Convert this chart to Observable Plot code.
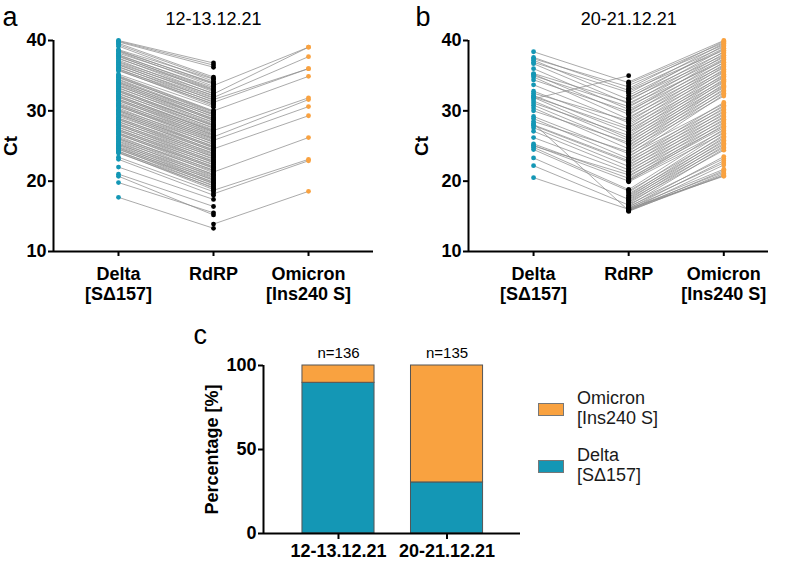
<!DOCTYPE html>
<html>
<head>
<meta charset="utf-8">
<script src="https://cdn.jsdelivr.net/npm/d3@7"></script>
<script src="https://cdn.jsdelivr.net/npm/@observablehq/plot@0.6"></script>
<style>
  body { margin: 0; background: white; }
  #wrap { position: relative; width: 790px; height: 562px; font-family: "Liberation Sans", Arial, sans-serif; }
  .panel { position: absolute; }
  .legend-sw { position: absolute; width: 24px; height: 11px; border: 1px solid #777; }
  .legend-tx { position: absolute; font-size: 18px; line-height: 20px; color: #1a1a1a; white-space: nowrap; }
</style>
</head>
<body>
<div id="wrap">
  <div class="panel" id="pa" style="left:0;top:0"></div>
  <div class="panel" id="pb" style="left:395px;top:0"></div>
  <div class="panel" id="pc" style="left:150px;top:300px"></div>
  <div class="legend-sw" style="left:538px;top:403px;background:#f9a240"></div>
  <div class="legend-tx" style="left:577px;top:388px">Omicron<br>[Ins240 S]</div>
  <div class="legend-sw" style="left:538px;top:460px;background:#1497b5"></div>
  <div class="legend-tx" style="left:577px;top:445px">Delta<br>[SΔ157]</div>
</div>
<script>
// ---------- data ----------
const categories = ["Delta\n[SΔ157]", "RdRP", "Omicron\n[Ins240 S]"];
const panelTitles = ["12-13.12.21", "20-21.12.21"];

// panel a (12-13.12.21): Delta samples (Delta Ct, RdRP Ct)
const aDeltaCt = [40.0, 39.9, 39.8, 39.6, 39.4, 39.2, 38.7, 38.6, 38.5, 38.4, 38.2, 38.0, 37.9, 37.8, 37.7, 37.5, 37.4, 37.2, 37.0, 36.9, 36.7, 36.6, 36.5, 36.3, 36.2, 36.0, 35.9, 35.8, 35.7, 35.2, 35.0, 34.9, 34.8, 34.7, 34.5, 34.4, 34.2, 34.1, 34.0, 33.9, 33.7, 33.6, 33.5, 33.3, 33.2, 33.0, 32.9, 32.8, 32.7, 32.5, 32.4, 32.2, 32.1, 32.0, 31.9, 31.7, 31.6, 31.5, 31.4, 31.2, 31.0, 30.9, 30.8, 30.7, 30.6, 30.4, 30.2, 30.1, 30.0, 29.9, 29.7, 29.6, 29.5, 29.4, 29.2, 29.0, 28.9, 28.8, 28.7, 28.5, 28.4, 28.2, 28.1, 28.0, 27.9, 27.7, 27.6, 27.4, 27.3, 27.2, 27.1, 26.9, 26.8, 26.7, 26.6, 26.4, 26.2, 26.1, 26.0, 25.9, 25.7, 25.6, 25.4, 25.3, 25.2, 25.1, 24.9, 24.8, 24.7, 24.6, 24.5, 24.3, 24.2, 24.1, 24.0, 23.4, 23.1, 22.0, 21.0, 20.7, 19.8, 17.7];
const aDeltaRdrp = [36.8, 36.5, 36.2, 34.8, 34.6, 34.2, 34.5, 33.9, 34.0, 33.5, 33.8, 33.1, 33.3, 32.7, 33.0, 32.4, 32.9, 32.1, 32.5, 31.9, 32.2, 31.5, 31.8, 31.2, 31.6, 30.9, 31.3, 30.7, 31.0, 30.5, 30.0, 29.9, 29.6, 29.8, 29.4, 29.1, 29.5, 28.8, 29.2, 28.6, 28.9, 28.3, 28.7, 28.1, 28.4, 27.8, 28.0, 27.5, 27.9, 27.3, 27.6, 27.0, 27.2, 26.7, 27.1, 26.5, 26.9, 26.2, 26.6, 26.0, 26.4, 25.7, 26.1, 25.5, 25.9, 25.2, 25.6, 24.9, 25.3, 24.7, 25.0, 24.4, 24.8, 24.2, 24.5, 23.9, 24.3, 23.6, 24.0, 23.4, 23.8, 23.1, 23.5, 22.8, 23.2, 22.6, 22.9, 22.3, 22.7, 22.0, 22.4, 21.8, 22.1, 21.5, 21.9, 21.2, 21.6, 20.9, 21.4, 20.6, 21.0, 20.3, 20.8, 20.1, 20.5, 19.8, 20.2, 19.6, 19.9, 19.3, 19.7, 19.0, 19.4, 18.8, 19.1, 18.5, 18.0, 17.4, 16.4, 15.2, 15.5, 13.3];
// panel a: Omicron samples (RdRP Ct, Omicron Ct)
const aOmiRdrp = [33.6, 32.4, 31.9, 31.6, 31.2, 30.0, 27.2, 26.3, 25.8, 24.6, 21.3, 18.7, 18.2, 13.9];
const aOmiCt = [39.05, 39.05, 37.7, 36.0, 36.0, 34.9, 31.85, 31.6, 30.6, 29.3, 26.2, 23.1, 22.9, 18.55];

// panel b (20-21.12.21): Delta samples
const bDeltaCt = [38.4, 37.6, 37.4, 37.2, 36.9, 36.7, 36.0, 35.3, 35.2, 35.0, 34.8, 34.4, 33.7, 32.8, 32.5, 32.2, 32.0, 31.9, 31.7, 31.4, 31.1, 30.8, 30.4, 30.0, 29.2, 28.9, 28.5, 28.2, 27.9, 27.6, 27.1, 28.0, 26.2, 25.3, 25.1, 25.0, 24.8, 24.5, 23.3, 22.2, 20.5];
const bDeltaRdrp = [34.0, 32.9, 33.4, 31.6, 32.6, 31.0, 30.2, 31.2, 29.5, 30.6, 28.8, 29.9, 28.3, 27.7, 28.6, 26.9, 27.4, 26.1, 35.0, 25.8, 26.5, 25.2, 24.6, 25.5, 23.9, 23.2, 24.2, 15.8, 22.7, 22.1, 21.6, 22.9, 21.2, 20.4, 20.0, 20.9, 18.8, 18.6, 17.4, 16.6, 16.0];
// panel b: Omicron samples
const bOmiCt = [40.0, 39.9, 39.7, 39.6, 39.4, 39.3, 39.1, 38.9, 38.8, 38.6, 38.4, 38.3, 38.1, 37.9, 37.8, 37.6, 37.4, 37.3, 37.1, 36.9, 36.8, 36.6, 36.4, 36.3, 36.1, 35.9, 35.7, 35.6, 35.4, 35.2, 35.0, 34.9, 34.7, 34.5, 34.3, 34.2, 34.0, 33.8, 33.6, 33.5, 33.3, 33.1, 32.9, 32.7, 32.5, 32.3, 32.1, 31.2, 31.0, 30.8, 30.6, 30.4, 30.2, 30.0, 29.8, 29.6, 29.4, 29.2, 29.0, 28.8, 28.6, 28.4, 28.2, 28.0, 27.8, 27.6, 27.4, 27.2, 27.0, 26.8, 26.6, 26.4, 26.2, 26.0, 25.8, 25.6, 25.4, 25.2, 25.0, 24.8, 24.6, 24.4, 23.5, 23.2, 22.9, 22.6, 22.3, 21.7, 21.5, 21.3, 21.1, 20.9, 20.8, 20.7];
const bOmiRdrp = [34.1, 33.2, 33.9, 32.5, 33.6, 31.8, 33.0, 32.2, 31.4, 32.8, 30.9, 31.9, 30.5, 31.6, 29.8, 31.1, 30.2, 29.4, 30.7, 28.9, 30.0, 28.4, 29.6, 27.9, 29.1, 27.5, 28.7, 27.0, 28.2, 26.6, 27.7, 26.2, 27.3, 25.8, 26.9, 25.4, 26.4, 25.0, 26.0, 24.6, 25.6, 24.2, 25.2, 23.8, 24.8, 23.4, 24.4, 23.0, 24.0, 22.6, 23.6, 22.2, 23.2, 21.8, 22.8, 21.4, 22.4, 21.0, 22.0, 20.6, 21.6, 20.2, 21.2, 20.0, 20.8, 20.4, 18.8, 20.1, 18.4, 19.9, 18.0, 18.6, 17.7, 18.2, 17.4, 17.9, 17.1, 17.6, 16.8, 17.3, 16.5, 17.0, 16.3, 16.7, 16.1, 16.4, 15.9, 16.2, 15.8, 16.0, 15.7, 15.9, 15.8, 16.1];

// panel c: percentages
const nTotal = [136, 135];
const pctDelta = [89.7, 30.4];
const pctOmicron = [10.3, 69.6];

// ---------- styling ----------
const TEAL = "#1497b5", ORANGE = "#f9a240", LINE = "#8e8e8e";
const FONT = "'Liberation Sans', Arial, sans-serif";

function pairs(left, right, i0, i1) {
  const n = Math.min(left.length, right.length);
  const out = [];
  for (let k = 0; k < n; k++) out.push({x1: i0, y1: left[k], x2: i1, y2: right[k]});
  return out;
}
function pts(vals, i) { return vals.map(v => ({x: i, y: v})); }

function ctPanel(opts) {
  const {title, letter, dCt, dR, oR, oCt, xMax, marginLeft, letterDx, labelDx} = opts;
  const links = pairs(dCt, dR, 0, 1).concat(pairs(oR, oCt, 1, 2));
  const xMin = -0.684;
  return Plot.plot({
    width: 395, height: 301,
    marginLeft, marginRight: 22, marginTop: 40, marginBottom: 50,
    style: {background: "transparent", fontFamily: FONT, overflow: "visible", color: "#000"},
    x: {domain: [xMin, xMax], label: null},
    y: {domain: [10, 40], label: null},
    marks: [
      Plot.link(links, {x1: "x1", y1: "y1", x2: "x2", y2: "y2", stroke: LINE, strokeWidth: 0.75}),
      Plot.dot(pts(dCt, 0), {x: "x", y: "y", r: 2.4, fill: TEAL}),
      Plot.dot(pts(dR.concat(oR), 1), {x: "x", y: "y", r: 2.4, fill: "#000"}),
      Plot.dot(pts(oCt, 2), {x: "x", y: "y", r: 2.4, fill: ORANGE}),
      Plot.ruleX([xMin], {stroke: "#000", strokeWidth: 2}),
      Plot.ruleY([10], {stroke: "#000", strokeWidth: 2}),
      Plot.axisY({ticks: [10, 20, 30, 40], tickSize: 5, tickPadding: 2, strokeWidth: 2, fontSize: 18, fontWeight: "bold", label: null}),
      Plot.axisX({ticks: [0, 1, 2], tickSize: 5, tickPadding: 9, strokeWidth: 2, fontSize: 18, fontWeight: "bold", lineHeight: 1.12, tickFormat: i => categories[i], label: null}),
      Plot.text(["Ct"], {frameAnchor: "left", textAnchor: "middle", dx: labelDx, rotate: -90, fontSize: 19, fontWeight: "bold"}),
      Plot.text([title], {x: () => 1, frameAnchor: "top", lineAnchor: "middle", dy: -21.5, fontSize: 18}),
      Plot.text([letter], {frameAnchor: "top-left", lineAnchor: "bottom", dx: letterDx, dy: -15, fontSize: 27, textAnchor: "start"})
    ]
  });
}

document.getElementById("pa").append(ctPanel({
  title: panelTitles[0], letter: "a", dCt: aDeltaCt, dR: aDeltaRdrp, oR: aOmiRdrp, oCt: aOmiCt,
  xMax: 2.684, marginLeft: 53, letterDx: -51, labelDx: -43
}));
document.getElementById("pb").append(ctPanel({
  title: panelTitles[1], letter: "b", dCt: bDeltaCt, dR: bDeltaRdrp, oR: bOmiRdrp, oCt: bOmiCt,
  xMax: 2.47, marginLeft: 73, letterDx: -53, labelDx: -47
}));

// panel c
const half = 0.332;
const deltaRows = pctDelta.map((v, i) => ({i, y1: 0, y2: v}));
const omiRows = pctOmicron.map((v, i) => ({i, y1: pctDelta[i], y2: pctDelta[i] + v}));
const cMin = -0.691;
document.getElementById("pc").append(Plot.plot({
  width: 390, height: 262,
  marginLeft: 113, marginRight: 20, marginTop: 65, marginBottom: 29,
  style: {background: "transparent", fontFamily: FONT, overflow: "visible", color: "#000"},
  x: {domain: [cMin, 1.677], label: null},
  y: {domain: [0, 100], label: null},
  marks: [
    Plot.rectY(deltaRows, {x1: d => d.i - half, x2: d => d.i + half, y1: "y1", y2: "y2", fill: TEAL, stroke: "#555", strokeWidth: 1}),
    Plot.rectY(omiRows, {x1: d => d.i - half, x2: d => d.i + half, y1: "y1", y2: "y2", fill: ORANGE, stroke: "#555", strokeWidth: 1}),
    Plot.ruleX([cMin], {stroke: "#000", strokeWidth: 2}),
    Plot.ruleY([0], {stroke: "#000", strokeWidth: 2}),
    Plot.axisY({ticks: [0, 50, 100], tickSize: 5, tickPadding: 2, strokeWidth: 2, fontSize: 18, fontWeight: "bold", label: null}),
    Plot.axisX({ticks: [0, 1], tickSize: 6, tickPadding: 5, strokeWidth: 2, fontSize: 18, fontWeight: "bold", tickFormat: i => panelTitles[i], label: null}),
    Plot.text(nTotal, {x: (d, i) => i, y: (d, i) => pctDelta[i] + pctOmicron[i], dy: -12, text: d => "n=" + d, fontSize: 15}),
    Plot.text(["Percentage [%]"], {frameAnchor: "left", textAnchor: "middle", dx: -51, rotate: -90, fontSize: 18, fontWeight: "bold"}),
    Plot.text(["c"], {frameAnchor: "top-left", lineAnchor: "bottom", dx: -70, dy: -22, fontSize: 27, textAnchor: "start"})
  ]
}));
</script>
</body>
</html>
